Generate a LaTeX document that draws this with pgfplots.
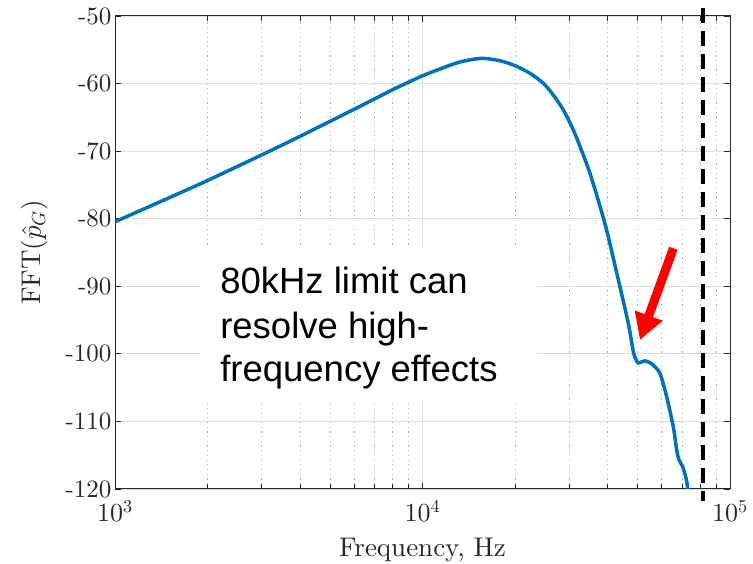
\documentclass[border=0pt]{standalone}
\usepackage{fontspec}
\setmainfont{lmroman10-regular}[Extension=.otf, ItalicFont=lmroman10-italic, BoldFont=lmroman10-bold]
\DeclareFontShape{OT1}{cmr}{m}{n}{<->cmr10}{}
\DeclareFontShape{OML}{cmm}{m}{it}{<->cmmi10}{}
\usepackage{pgfplots}
\pgfplotsset{compat=1.18}
\usetikzlibrary{calc,arrows.meta}
\newfontfamily\arialfont{Liberation Sans}
\definecolor{mblue}{rgb}{0,0.447,0.741}
\definecolor{axgray}{rgb}{0.15,0.15,0.15}
\begin{document}
\begin{tikzpicture}
\begin{axis}[
  name=ax,
  scale only axis, width=615pt, height=473pt,
  xmode=log, log basis x=10,
  xmin=1000, xmax=100000, ymin=-120, ymax=-50,
  xtick={1000,10000,100000},
  xticklabels={$10^3$,$10^4$,$10^5$},
  minor xtick={2000,3000,4000,5000,6000,7000,8000,9000,20000,30000,40000,50000,60000,70000,80000,90000},
  ytick={-120,-110,-100,-90,-80,-70,-60,-50},
  yticklabels={-120,-110,-100,-90,-80,-70,-60,-50},
  tick align=inside,
  major tick length=6pt, minor tick length=5pt,
  every tick/.style={axgray, line width=0.8pt},
  axis line style={axgray, line width=1pt},
  xmajorgrids, ymajorgrids, xminorgrids,
  major grid style={black!13, line width=0.8pt},
  minor grid style={black!30, line width=0.8pt, dash pattern=on 1.2pt off 3.5pt},
  xticklabel style={font=\fontsize{26}{26}\selectfont, text=axgray, anchor=base, yshift=-33pt},
  yticklabel style={font=\fontsize{25}{25}\selectfont, text=axgray},
  xlabel={Frequency, Hz},
  ylabel={$\mathrm{FFT}(\hat{p}_G)$},
  xlabel style={font=\fontsize{27}{27}\selectfont, text=axgray, at={(axis description cs:0.5,0)}, anchor=base, yshift=-67.7pt},
  ylabel style={font=\fontsize{27}{27}\selectfont, text=axgray, at={(axis description cs:-0.1317,0.5)}, anchor=center},
  clip mode=individual,
]
\fill[white] (axis cs:1890,-84.19) rectangle (axis cs:23740,-106.83);
\addplot[mblue, line width=3.5pt, smooth, tension=0.45] coordinates {
(1000,-80.45) (1500,-76.9) (2000,-74.34) (3000,-70.56) (4000,-67.8)
(5000,-65.6) (6000,-63.8) (7000,-62.25) (8000,-60.9) (9000,-59.8)
(10000,-58.85) (11400,-57.84) (13250,-56.8) (15580,-56.27) (17860,-56.62)
(20000,-57.35) (22370,-58.48) (24720,-59.96) (26630,-61.69) (28710,-63.91)
(30940,-66.87) (33340,-70.57) (35050,-73.28) (37300,-77.3) (39700,-81.67)
(43350,-89.07) (46700,-95.5) (48500,-99.7) (49500,-100.9)
(50300,-101.35) (51500,-101.2) (52980,-101.05) (54800,-101.3) (56400,-101.7)
(59200,-102.9) (62230,-106.34) (65400,-110.8) (67080,-114.2) (68270,-115.7)
(70150,-116.7) (71940,-118.4) (72860,-120) (74000,-125)
};
\draw[black, line width=4pt, dash pattern=on 15pt off 8pt] (axis cs:81500,-48.8) -- (axis cs:81500,-121.8);
\draw[red, line width=9pt, -{Triangle[length=26pt,width=28pt]}] (axis cs:65460,-84.38) -- (axis cs:50930,-97.95);
\node[anchor=base west, font=\arialfont\fontsize{36.5}{44}\selectfont, inner sep=0pt] at (axis cs:2196,-91.04) {80kHz limit can};
\node[anchor=base west, font=\arialfont\fontsize{36.5}{44}\selectfont, inner sep=0pt] at (axis cs:2196,-97.70) {resolve high-};
\node[anchor=base west, font=\arialfont\fontsize{36.5}{44}\selectfont, inner sep=0pt] at (axis cs:2196,-104.12) {frequency effects};
\end{axis}
\pgfresetboundingbox
\path ($(ax.south west)+(-115pt,-75pt)$) rectangle ($(ax.north east)+(23pt,16pt)$);
\end{tikzpicture}
\end{document}
